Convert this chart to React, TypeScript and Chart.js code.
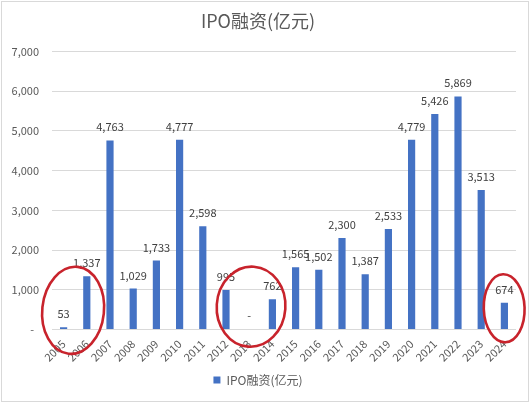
import React, { useEffect, useRef } from 'react';
import { Chart, registerables } from 'chart.js';

Chart.register(...registerables);

const chartTitle = 'IPO融资(亿元)';
const seriesName = 'IPO融资(亿元)';
const categories = [
  '2005', '2006', '2007', '2008', '2009', '2010', '2011', '2012', '2013', '2014',
  '2015', '2016', '2017', '2018', '2019', '2020', '2021', '2022', '2023', '2024',
];
const ipoValues = [
  53, 1337, 4763, 1029, 1733, 4777, 2598, 995, 0, 762,
  1565, 1502, 2300, 1387, 2533, 4779, 5426, 5869, 3513, 674,
];
const yTickValues = [0, 1000, 2000, 3000, 4000, 5000, 6000, 7000];

const FONT = '"Noto Sans CJK SC", "Noto Sans", sans-serif';

const fmt = (v: number) => (v === 0 ? '-' : v.toLocaleString('en-US'));

// highlighted groups: centre in category index / value units, half-sizes in the same units
const highlightRings = [
  { idx: 0.41, val: 481, rxCat: 1.33, ryVal: 1100, rot: 6 },
  { idx: 8.08, val: 573, rxCat: 1.48, ryVal: 1010, rot: 4 },
  { idx: 18.99, val: 532, rxCat: 0.88, ryVal: 857, rot: -2 },
];

const framePlugin = {
  id: 'frame',
  beforeDraw(chart: any) {
    const { ctx, width, height } = chart;
    ctx.save();
    ctx.fillStyle = '#ffffff';
    ctx.fillRect(0, 0, width, height);
    ctx.restore();
  },
  afterDraw(chart: any) {
    const { ctx, width, height } = chart;
    ctx.save();
    ctx.strokeStyle = '#d9d9d9';
    ctx.lineWidth = 1;
    ctx.strokeRect(1.5, 1.5, width - 3, height - 3);
    ctx.restore();
  },
};

const labelPlugin = {
  id: 'valueLabels',
  afterDatasetsDraw(chart: any) {
    const { ctx } = chart;
    const meta = chart.getDatasetMeta(0);
    ctx.save();
    ctx.font = `11px ${FONT}`;
    ctx.fillStyle = '#404040';
    ctx.textAlign = 'center';
    ctx.textBaseline = 'alphabetic';
    meta.data.forEach((bar: any, i: number) => {
      ctx.fillText(fmt(ipoValues[i]), bar.x, bar.y - 9);
    });
    ctx.restore();
  },
};

const ringPlugin = {
  id: 'rings',
  afterDraw(chart: any) {
    const { ctx } = chart;
    const xs = chart.scales.x;
    const ys = chart.scales.y;
    const x0 = xs.getPixelForValue(0);
    const step = xs.getPixelForValue(1) - x0;
    const zero = ys.getPixelForValue(0);
    ctx.save();
    ctx.strokeStyle = '#c8232c';
    ctx.lineWidth = 2.6;
    highlightRings.forEach((r) => {
      const cx = x0 + r.idx * step;
      const cy = ys.getPixelForValue(r.val);
      const rx = r.rxCat * step;
      const ry = Math.abs(zero - ys.getPixelForValue(r.ryVal));
      ctx.beginPath();
      ctx.ellipse(cx, cy, rx, ry, (r.rot * Math.PI) / 180, 0, Math.PI * 2);
      ctx.stroke();
    });
    ctx.restore();
  },
};

export default function App() {
  const ref = useRef<HTMLCanvasElement | null>(null);

  useEffect(() => {
    document.body.style.margin = '0';
    if (!ref.current) return;
    const chart = new Chart(ref.current, {
      type: 'bar',
      data: {
        labels: categories,
        datasets: [
          {
            label: seriesName,
            data: ipoValues,
            backgroundColor: '#4472C4',
            borderWidth: 0,
            categoryPercentage: 1,
            barPercentage: 0.31,
          },
        ],
      },
      options: {
        responsive: false,
        animation: false,
        layout: { padding: { left: 0, right: 14, top: 0, bottom: 7 } },
        plugins: {
          title: {
            display: true,
            text: chartTitle,
            color: '#595959',
            font: { family: FONT, size: 18, weight: 'normal' },
            padding: { top: 10, bottom: 20 },
          },
          legend: {
            position: 'bottom',
            labels: {
              boxWidth: 7,
              boxHeight: 7,
              color: '#595959',
              font: { family: FONT, size: 12 },
            },
          },
          tooltip: { enabled: false },
        },
        scales: {
          x: {
            grid: { display: false },
            border: { display: false },
            ticks: {
              color: '#595959',
              font: { family: FONT, size: 11 },
              maxRotation: 45,
              minRotation: 45,
              padding: 0,
            },
          },
          y: {
            min: 0,
            max: 7000,
            afterBuildTicks: (scale: any) => {
              scale.ticks = yTickValues.map((v) => ({ value: v }));
            },
            afterFit: (scale: any) => {
              scale.width = 52;
            },
            grid: { color: '#d9d9d9', drawTicks: false },
            border: { display: false },
            ticks: {
              color: '#595959',
              font: { family: FONT, size: 11 },
              padding: 13,
              callback: (v: any) => (Number(v) === 0 ? '-  ' : Number(v).toLocaleString('en-US')),
            },
          },
        },
      },
      plugins: [framePlugin, labelPlugin, ringPlugin],
    });
    return () => chart.destroy();
  }, []);

  return <canvas ref={ref} width={530} height={403} style={{ display: 'block' }} />;
}
